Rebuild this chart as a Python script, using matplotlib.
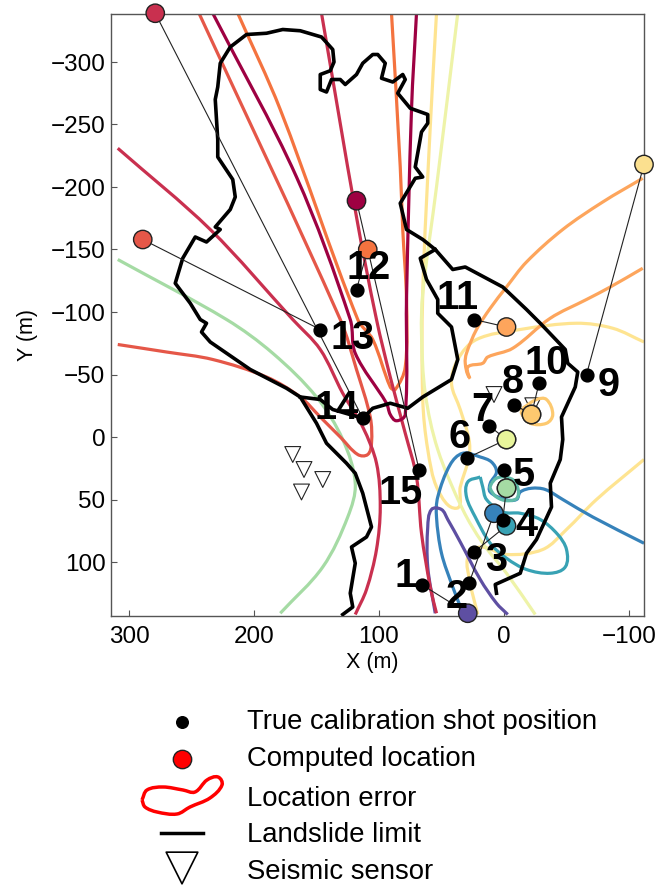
import numpy as np
import matplotlib
matplotlib.use('Agg')
import matplotlib.pyplot as plt
from matplotlib.path import Path
from matplotlib.patches import PathPatch

plt.rcParams['font.family'] = ['Liberation Sans', 'DejaVu Sans']

# shots 1 to 15
shot_x = [66, 28, 24, 1, 0, 30, 12, -8, -66, -28, 24, 118, 147, 113, 68]
shot_y = [118, 117, 92, 66, 26, 17, -9, -26, -50, -43, -94, -118, -86, -15, 26]
comp_x = [29, 8, -2, -2, -2, -2, -2, -22, -112, -22, -2, 109, 289, 279, 118]
comp_y = [141, 61, 71, 41, 41, 2, 2, -18, -218, -18, -88, -150, -158, -339, -189]
comp_colors = ['#5e4fa2', '#3682ba', '#38a2b4', '#5fbba8', '#a5dba4', '#e8f59b', '#e8f59b', '#fdc96f',
               '#fbe08f', '#fdc96f', '#fda55c', '#f4733f', '#e55748', '#c9304f', '#9e0142']
shot_labels = ['1', '2', '3', '4', '5', '6', '7', '8', '9', '10', '11', '12', '13', '14', '15']
label_x = [79, 38, 6, -18, -16, 36, 17, -7, -84, -34, 37, 108, 121, 134, 83]
label_y = [111, 128, 98, 70, 30, 0, -22, -44, -42, -59, -111, -135, -79, -23, 45]

sensor_x = [169, 160, 145, 162, 8, -23]
sensor_y = [14, 26, 34, 44, -34, -25]

limit_main = [(129, 142), (121, 136), (123, 125), (119, 101), (122, 88), (110, 80), (106, 72), (113, 45),
              (119, 29), (126, 21), (142, 5), (150, -11), (163, -32), (174, -39), (203, -54), (235, -76),
              (242, -84), (238, -91), (243, -94), (251, -107), (263, -123), (257, -143), (247, -160),
              (238, -156), (227, -166), (231, -168), (219, -182), (215, -192), (217, -206), (229, -224),
              (229, -238), (231, -270), (229, -280), (227, -299), (219, -312), (206, -322), (190, -323),
              (177, -326), (163, -325), (146, -320), (137, -310), (136, -300), (139, -293), (147, -290),
              (147, -278), (142, -276), (138, -286), (131, -286), (127, -282), (118, -290), (113, -299),
              (105, -306), (101, -306), (95, -299), (98, -287), (89, -284), (81, -290), (79, -286),
              (85, -275), (75, -263), (61, -258), (61, -251), (66, -244), (71, -216), (65, -208), (71, -207),
              (83, -187), (78, -166), (65, -158), (55, -150), (41, -134), (31, -136), (1, -120), (-18, -102),
              (-29, -91), (-49, -70), (-51, -59), (-59, -52), (-57, -40), (-46, -16), (-47, 2), (-45, 18),
              (-37, 37), (-38, 56), (-26, 82), (-18, 93), (-13, 109), (7, 118), (6, 125)]
limit_inner = [(163, -32), (147, -30), (137, -22), (113, -15), (105, -23), (91, -27), (77, -23), (65, -32),
               (42, -46), (37, -62), (42, -88), (53, -99), (53, -110), (62, -126), (67, -143), (55, -150)]

# location error curves, one or two per shot
err_1 = [(55, 141), (61, 104), (61, 72), (58, 58), (50, 58), (45, 66), (35, 84), (19, 114), (6, 133), (-3, 142)]
err_2 = [(34, 138), (41, 120), (50, 93), (54, 64), (53, 48), (43, 22), (33, 13), (19, 16), (10, 20), (6, 28),
         (11, 37), (11, 44), (-1, 50), (-10, 50), (-13, 44), (-22, 41), (-33, 42), (-47, 50), (-71, 64), (-112, 85)]
err_3 = [(19, 32), (29, 36), (30, 48), (23, 64), (11, 85), (-2, 97), (-18, 106), (-37, 109), (-49, 104),
         (-50, 90), (-43, 78), (-29, 66), (-13, 61), (1, 60), (14, 50), (17, 40), (19, 32)]
err_4 = [(10, 37), (6, 33), (-1, 32), (-9, 36), (-11, 48), (-3, 51), (6, 48), (11, 41), (10, 37)]
err_5 = [(309, -142), (222, -94), (185, -67), (150, -32), (129, 2), (119, 37), (125, 64), (145, 104), (179, 141)]
err_6 = [(37, -339), (54, -200), (65, -115), (66, -83), (63, -35), (53, 10), (33, 58), (17, 85), (-2, 109), (-25, 142)]
err_7 = [(-112, 18), (-74, 50), (-50, 74), (-31, 90), (-2, 94), (19, 88), (29, 96), (27, 117), (21, 142)]
err_8 = [(54, -339), (59, -248), (65, -115), (65, -30), (61, 10), (53, 42), (38, 57), (35, 40), (28, 16), (28, 2),
         (35, -22), (42, -43), (37, -62), (22, -78), (-13, -86), (-58, -91), (-87, -87), (-112, -76)]
err_10 = [(-15, -23), (-26, -30), (-34, -30), (-39, -18), (-34, -11), (-21, -11), (-14, -19), (-15, -23)]
err_11 = [(-111, -207), (-79, -188), (-47, -166), (-18, -140), (-2, -120), (11, -103), (22, -86), (30, -67),
          (31, -59), (28, -48), (29, -56), (17, -59), (13, -64), (-7, -71), (-37, -95), (-66, -110), (-85, -120), (-111, -135)]
err_12 = [(213, -339), (179, -262), (117, -94), (105, -78), (91, -40), (87, -38), (79, -56), (78, -110),
          (81, -166), (83, -216), (90, -339)]
err_13 = [(244, -339), (131, -94), (118, -54), (107, -16), (106, 5), (109, 14), (117, 14), (131, 0), (147, -16),
          (163, -32), (190, -48), (233, -62), (270, -68), (309, -74)]
err_14a = [(309, -231), (235, -166), (169, -94), (147, -70), (129, -35), (113, -8), (102, 21), (99, 56),
           (102, 90), (110, 122), (119, 142)]
err_14b = [(146, -339), (118, -176), (102, -94), (91, -48), (79, -3), (70, 32), (66, 77), (59, 120), (54, 141)]
err_15 = [(233, -339), (166, -208), (123, -94), (119, -67), (94, -27), (91, -18), (86, -13), (79, -18),
          (78, -110), (74, -262), (70, -339)]

error_curves = [(err_8, '#fee491'), (err_7, '#fee491'), (err_6, '#eef3a8'), (err_5, '#a5dba4'), (err_11, '#fda55c'),
                (err_10, '#fdc96f'), (err_3, '#38a2b4'), (err_2, '#3682ba'), (err_4, '#5fbba8'), (err_1, '#5e4fa2'),
                (err_12, '#f4733f'), (err_13, '#e55748'), (err_14a, '#c9304f'), (err_14b, '#c9304f'), (err_15, '#9e0142')]

legend_labels = ['True calibration shot position', 'Computed location', 'Location error',
                 'Landslide limit', 'Seismic sensor']
legend_blob = [(142, 800), (147, 790), (163, 787), (183, 790), (195, 792), (207, 780), (218, 777), (222, 785),
               (210, 798), (190, 807), (177, 814), (157, 812), (145, 807), (142, 800)]


def smooth_path(pts):
    # cubic segments that pass through every read point, handles a third of the segment length
    p = np.array(pts, dtype=float)
    n = len(p)
    tang = np.zeros_like(p)
    tang[0] = p[1] - p[0]
    tang[-1] = p[-1] - p[-2]
    tang[1:-1] = p[2:] - p[:-2]
    tang = tang / np.maximum(np.linalg.norm(tang, axis=1, keepdims=True), 1e-9)
    verts = [p[0]]
    codes = [Path.MOVETO]
    for i in range(n - 1):
        seg = np.linalg.norm(p[i + 1] - p[i]) / 3
        verts += [p[i] + tang[i] * seg, p[i + 1] - tang[i + 1] * seg, p[i + 1]]
        codes += [Path.CURVE4, Path.CURVE4, Path.CURVE4]
    return Path(verts, codes)


fig = plt.figure(figsize=(6.69, 8.88), dpi=100)
ax = fig.add_axes([111 / 669, 1 - 616 / 888, 533 / 669, 602 / 888])

ax.scatter(sensor_x, sensor_y, marker='v', s=130, facecolor='none', edgecolor='#222222', linewidth=0.8, zorder=1)

for pts, col in error_curves:
    ax.add_patch(PathPatch(smooth_path(pts), fill=False, edgecolor=col, linewidth=2.3, zorder=2, capstyle='butt'))

ax.plot(*zip(*limit_main), color='black', linewidth=2.6, solid_joinstyle='round', zorder=3)
ax.plot(*zip(*limit_inner), color='black', linewidth=2.6, solid_joinstyle='round', zorder=3)

for i in range(15):
    ax.plot([shot_x[i], comp_x[i]], [shot_y[i], comp_y[i]], color='#222222', linewidth=0.8, zorder=5, clip_on=False)
    ax.text(label_x[i], label_y[i], shot_labels[i], fontsize=28.5, fontweight='bold', ha='center', va='center', zorder=9)

ax.scatter(comp_x, comp_y, s=175, c=comp_colors, edgecolor='#222222', linewidth=1.0, zorder=6, clip_on=False)
ax.scatter(shot_x, shot_y, s=85, color='black', zorder=7, clip_on=False)

ax.set_xlim(314.4, -112)
ax.set_ylim(143.2, -338.4)
ax.set_xticks([300, 200, 100, 0, -100])
ax.set_yticks([-300, -250, -200, -150, -100, -50, 0, 50, 100])
ax.tick_params(direction='in', length=4.5, width=0.8, color='#555555', labelsize=17.5, pad=4)
ax.tick_params(axis='x', pad=7)
for s in ax.spines.values():
    s.set_color('#555555')
    s.set_linewidth(1.0)
ax.set_xlabel('X (m)', fontsize=15.5, labelpad=3)
ax.set_ylabel('Y (m)', fontsize=15.5, labelpad=9)
ax.xaxis.label.set_x(0.49)
ax.yaxis.label.set_y(0.467)

# legend drawn in its own axes, in pixel units of the figure
leg = fig.add_axes([0, 0, 1, 1], facecolor='none')
leg.set_xlim(0, 669)
leg.set_ylim(888, 0)
leg.axis('off')
leg.scatter([182], [722], s=70, color='black')
leg.scatter([182], [759], s=175, color='red', edgecolor='#222222', linewidth=1.0)
leg.add_patch(PathPatch(smooth_path(legend_blob), fill=False, edgecolor='red', linewidth=2.5))
leg.plot([161, 203], [833, 833], color='black', linewidth=2.5)
leg.scatter([182], [868], marker='v', s=520, facecolor='none', edgecolor='black', linewidth=1.2)
for lab, ypos in zip(legend_labels, [722, 759, 799, 835, 872]):
    leg.text(247, ypos, lab, fontsize=19.8, ha='left', va='center')

fig.savefig('out.png', dpi=100)
